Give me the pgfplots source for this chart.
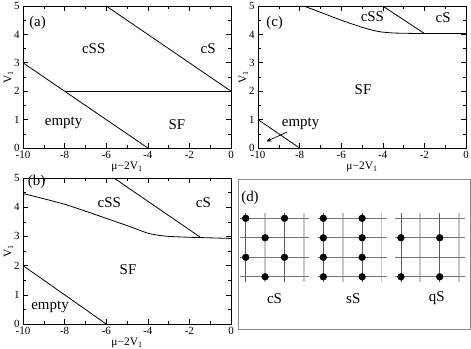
\documentclass[border=0pt]{standalone}
\usepackage{fontspec}
\setmainfont{Liberation Serif}
\usepackage{pgfplots}
\pgfplotsset{compat=1.18}
\usetikzlibrary{arrows.meta}

\newcommand{\reg}{\fontsize{15}{17}\selectfont}
\newcommand{\tck}{\fontsize{11}{12}\selectfont}

\pgfplotsset{
  phase/.style={
    scale only axis, width=208bp,
    xmin=-10, xmax=0, ymin=0, ymax=5,
    xtick={-10,-8,-6,-4,-2,0}, minor x tick num=1,
    ytick={0,1,2,3,4,5}, minor y tick num=1,
    tick align=inside, major tick length=5bp, minor tick length=3bp,
    axis line style={line width=0.7bp},
    tick style={line width=0.6bp, black},
    ticklabel style={font=\tck},
    /pgf/number format/assume math mode=true,
    xlabel={\fontsize{11.5}{13}\selectfont μ−2V\textsubscript{1}},
    ylabel={\fontsize{11.5}{13}\selectfont V\textsubscript{1}},
    xlabel style={yshift=4bp},
    ylabel style={yshift=-6bp},
    every axis plot post/.append style={black, line width=0.8bp, mark=none},
    clip=false,
  },
}

\begin{document}
\begin{tikzpicture}[x=1bp,y=1bp]
\useasboundingbox (0,0) rectangle (471,348);

% ----- (a)
\begin{axis}[phase, height=142bp, at={(23bp,200bp)}, anchor=south west]
  \addplot coordinates {(-10,3) (-4,0)};
  \addplot coordinates {(-8,2) (0,2)};
  \addplot coordinates {(-6,5) (0,2)};
  \node[font=\reg] at (axis cs:-9.3,4.41) {(a)};
  \node[font=\reg] at (axis cs:-6.6,3.5) {cSS};
  \node[font=\reg] at (axis cs:-1.1,3.5) {cS};
  \node[font=\reg] at (axis cs:-8.05,0.9) {empty};
  \node[font=\reg] at (axis cs:-2.6,0.82) {SF};
\end{axis}

% ----- (c)
\begin{axis}[phase, height=142bp, at={(258bp,200bp)}, anchor=south west]
  \addplot coordinates {(-10,1) (-8,0)};
  \addplot[smooth, tension=0.4] coordinates {
    (-7.8,5) (-7,4.78) (-6,4.5) (-5,4.25) (-4.4,4.13) (-4,4.08)
    (-3.5,4.05) (-3,4.04) (-2,4.03) (0,4.03)};
  \addplot coordinates {(-4,5) (-2,4.03)};
  \draw[black, line width=0.7bp, -{Stealth[length=5bp,width=4bp]}]
    (axis cs:-8.6,0.56) -- (axis cs:-9.6,0.23);
  \node[font=\reg] at (axis cs:-9.2,4.41) {(c)};
  \node[font=\reg] at (axis cs:-4.5,4.62) {cSS};
  \node[font=\reg] at (axis cs:-1.1,4.58) {cS};
  \node[font=\reg] at (axis cs:-4.95,2.04) {SF};
  \node[font=\reg] at (axis cs:-7.95,0.86) {empty};
\end{axis}

% ----- (b)
\begin{axis}[phase, height=146bp, at={(23bp,24bp)}, anchor=south west]
  \addplot coordinates {(-10,2) (-6,0)};
  \addplot[smooth, tension=0.4] coordinates {
    (-10,4.47) (-8,4.1) (-6,3.62) (-5,3.37) (-4.5,3.24) (-4,3.11)
    (-3.5,3.04) (-3,3.0) (-2,2.97) (-1.45,2.96) (0,2.93)};
  \addplot coordinates {(-5.63,5) (-1.45,2.96)};
  \node[font=\reg] at (axis cs:-9.35,4.85) {(b)};
  \node[font=\reg] at (axis cs:-5.85,4.14) {cSS};
  \node[font=\reg] at (axis cs:-1.33,4.14) {cS};
  \node[font=\reg] at (axis cs:-4.95,1.85) {SF};
  \node[font=\reg] at (axis cs:-8.7,0.57) {empty};
\end{axis}

% ----- (d) lattice sketches
\begin{axis}[scale only axis, width=232bp, height=150bp,
  at={(238bp,19bp)}, anchor=south west,
  xmin=0, xmax=232, ymin=0, ymax=150,
  xtick=\empty, ytick=\empty,
  axis line style={black!45, line width=0.9bp},
  unbounded coords=jump, clip=false]
  % light columns
  \addplot[black!22, line width=1.8bp] coordinates {
    (27.1,47.3) (27.1,115.7) (nan,nan) (65.9,47.3) (65.9,115.7) (nan,nan)
    (104.7,47.3) (104.7,115.7) (nan,nan) (143.5,47.3) (143.5,115.7) (nan,nan)
    (182.3,47.3) (182.3,115.7) (nan,nan) (221.1,47.3) (221.1,115.7)};
  % rows
  \addplot[black!55, line width=0.8bp] coordinates {
    (2,52.2) (71.4,52.2) (nan,nan) (2,71.7) (71.4,71.7) (nan,nan)
    (2,91.2) (71.4,91.2) (nan,nan) (2,110.7) (71.4,110.7) (nan,nan)
    (79.6,52.2) (149,52.2) (nan,nan) (79.6,71.7) (149,71.7) (nan,nan)
    (79.6,91.2) (149,91.2) (nan,nan) (79.6,110.7) (149,110.7) (nan,nan)
    (157.2,52.2) (226.6,52.2) (nan,nan) (157.2,71.7) (226.6,71.7) (nan,nan)
    (157.2,91.2) (226.6,91.2) (nan,nan) (157.2,110.7) (226.6,110.7)};
  % dark columns
  \addplot[black!65, line width=0.8bp] coordinates {
    (7.7,47.3) (7.7,115.7) (nan,nan) (46.5,47.3) (46.5,115.7) (nan,nan)
    (85.3,47.3) (85.3,115.7) (nan,nan) (124.1,47.3) (124.1,115.7) (nan,nan)
    (162.9,47.3) (162.9,115.7) (nan,nan) (201.7,47.3) (201.7,115.7)};
  % occupied sites
  \addplot[only marks, mark=*, mark size=3.4bp, black] coordinates {
    (7.7,110.7) (46.5,110.7) (27.1,91.2) (7.7,71.7) (46.5,71.7) (27.1,52.2)
    (85.3,52.2) (85.3,71.7) (85.3,91.2) (85.3,110.7)
    (124.1,52.2) (124.1,71.7) (124.1,91.2) (124.1,110.7)
    (162.9,91.2) (201.7,91.2) (162.9,52.2) (201.7,52.2)};
  \node[font=\reg] at (axis cs:12,130.7) {(d)};
  \node[font=\reg] at (axis cs:36.5,30.7) {cS};
  \node[font=\reg] at (axis cs:115.3,30.7) {sS};
  \node[font=\reg] at (axis cs:198.7,30.7) {qS};
\end{axis}
\end{tikzpicture}
\end{document}
